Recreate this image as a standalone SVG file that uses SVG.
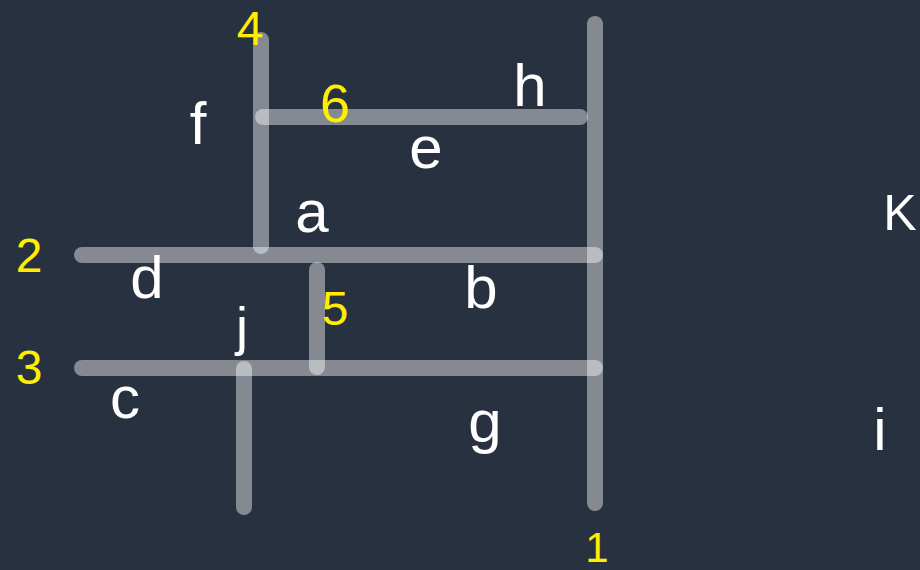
<svg xmlns="http://www.w3.org/2000/svg" width="920" height="570" viewBox="0 0 920 570">
<style>
.ln{stroke:#ffffff;stroke-opacity:0.43;stroke-width:16;stroke-linecap:round;fill:none}
.w{fill:#ffffff;font-family:"Liberation Sans",Arial,sans-serif;font-size:60px;text-anchor:middle}
.y{fill:#ffee00;font-family:"Liberation Sans",Arial,sans-serif;font-size:48px;text-anchor:middle}
</style>
<rect width="920" height="570" fill="#283140"/>
<g id="lines">
<line class="ln" x1="595" y1="24" x2="595" y2="503"/>
<line class="ln" x1="261" y1="40" x2="261" y2="246"/>
<line class="ln" x1="263" y1="117" x2="580" y2="117"/>
<line class="ln" x1="82" y1="255" x2="595" y2="255"/>
<line class="ln" x1="317" y1="270" x2="317" y2="367"/>
<line class="ln" x1="82" y1="368" x2="595" y2="368"/>
<line class="ln" x1="244" y1="369" x2="244" y2="507"/>
</g>
<g id="numbers">
<text class="y" x="250" y="45">4</text>
<text class="y" x="335" y="122" style="font-size:54px">6</text>
<text class="y" x="29" y="272">2</text>
<text class="y" x="335" y="325">5</text>
<text class="y" x="29" y="384">3</text>
<text class="y" x="597" y="562" style="font-size:42px">1</text>
</g>
<g id="letters">
<text class="w" x="198" y="144">f</text>
<text class="w" x="530" y="106">h</text>
<text class="w" x="426" y="168">e</text>
<text class="w" x="312" y="232">a</text>
<text class="w" x="900" y="230" style="font-size:50px">K</text>
<text class="w" x="147" y="298">d</text>
<text class="w" x="481" y="308">b</text>
<text class="w" x="242" y="345" style="font-size:54px">j</text>
<text class="w" x="125" y="418">c</text>
<text class="w" x="485" y="442">g</text>
<text class="w" x="880" y="450">i</text>
</g>
</svg>
